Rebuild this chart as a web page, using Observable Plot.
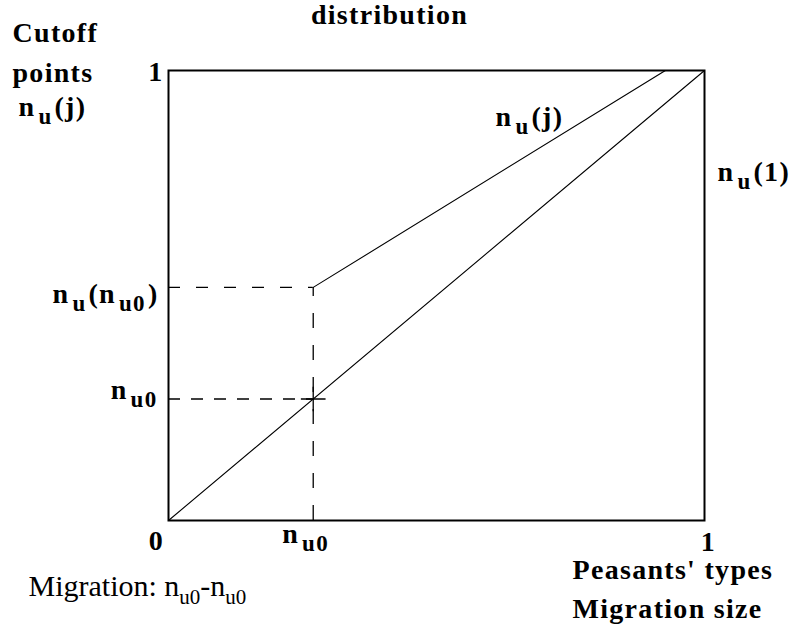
<!DOCTYPE html>
<html>
<head>
<meta charset="utf-8">
<script src="https://cdn.jsdelivr.net/npm/d3@7"></script>
<script src="https://cdn.jsdelivr.net/npm/@observablehq/plot@0.6"></script>
<style>
  html, body { margin: 0; padding: 0; background: #fff; }
  #chart svg { display: block; }
  #chart g[font-weight="bold"] text { letter-spacing: 1.3px; }
</style>
</head>
<body>
<div id="chart"></div>
<script>
// ---- data ----
const nu0 = 0.27;                 // n_u0 on the horizontal axis (and on the diagonal)
const nuOfNu0 = 0.518;            // n_u(n_u0): cutoff at n_u0
const cutoffEndX = 0.927;         // where n_u(j) reaches 1
const diagonalX = [0, 1];
const diagonalY = [0, 1];
const cutoffX = [nu0, cutoffEndX];
const cutoffY = [nuOfNu0, 1];
const xTickValues = [0, 1];
const xTickLabels = ["0", "1"];
const yTopLabel = "1";
const subLabelX = "n_{u0}";
const subLabelYLow = "n_{u0}";
const subLabelYHigh = "n_{u}(n_{u0})";
const titleText = "distribution";
const yTitleLines = ["Cutoff", "points", "n_{u}(j)"];
const lineLabel = "n_{u}(j)";
const rightLabel = "n_{u}(1)";
const xTitleLines = ["Peasants' types", "Migration size"];
const noteText = "Migration: n_{u0}-n_{u0}";

const diagonal = diagonalX.map((x, i) => ({x, y: diagonalY[i]}));
const cutoff = cutoffX.map((x, i) => ({x, y: cutoffY[i]}));

const FONT = "'Liberation Serif', 'Times New Roman', serif";
const B = {fontFamily: FONT, fontWeight: "bold", fontSize: 28, fill: "black", lineAnchor: "bottom"};

const plot = Plot.plot({
  width: 799,
  height: 630,
  marginLeft: 168,
  marginRight: 95,
  marginTop: 70,
  marginBottom: 110,
  x: {domain: [0, 1], axis: null},
  y: {domain: [0, 1], axis: null},
  marks: [
    // dashed guides
    Plot.ruleY([nuOfNu0], {x1: 0, x2: nu0, stroke: "black", strokeWidth: 1.3, strokeDasharray: "12,16"}),
    Plot.ruleY([nu0], {x1: 0, x2: nu0, stroke: "black", strokeWidth: 1.3, strokeDasharray: "12,11"}),
    Plot.ruleX([nu0], {y1: 0, y2: nuOfNu0, stroke: "black", strokeWidth: 1.3, strokeDasharray: "15,17"}),
    // lines
    Plot.line(diagonal, {x: "x", y: "y", stroke: "black", strokeWidth: 1.1}),
    Plot.line(cutoff, {x: "x", y: "y", stroke: "black", strokeWidth: 1.1}),
    Plot.dot([{x: nu0, y: nu0}], {x: "x", y: "y", symbol: "plus", r: 8, stroke: "black", strokeWidth: 1.3}),
    Plot.frame({stroke: "black", strokeWidth: 2}),
    // axis labels
    Plot.text(xTickValues, {x: d => d, y: 0, text: (d, i) => xTickLabels[i], dx: -12, dy: 29, ...B, textAnchor: "middle", filter: d => d === 0}),
    Plot.text(xTickValues, {x: d => d, y: 0, text: (d, i) => xTickLabels[i], dx: 4, dy: 30, ...B, textAnchor: "middle", filter: d => d === 1}),
    Plot.text([subLabelX], {x: nu0, y: 0, text: d => d, dx: -31, dy: 22, ...B, textAnchor: "start"}),
    Plot.text([yTopLabel], {x: 0, y: 1, text: d => d, dx: -5, dy: 10, ...B, textAnchor: "end"}),
    Plot.text([subLabelYHigh], {x: 0, y: nuOfNu0, text: d => d, dx: -10, dy: 16, ...B, textAnchor: "end"}),
    Plot.text([subLabelYLow], {x: 0, y: nu0, text: d => d, dx: -11, dy: 0, ...B, textAnchor: "end"}),
    // titles
    Plot.text([titleText], {frameAnchor: "top", text: d => d, dx: -47, dy: -47, ...B, textAnchor: "middle"}),
    Plot.text([yTitleLines[0]], {frameAnchor: "top-left", text: d => d, dx: -156, dy: -29, ...B, textAnchor: "start"}),
    Plot.text([yTitleLines[1]], {frameAnchor: "top-left", text: d => d, dx: -156, dy: 11, ...B, textAnchor: "start"}),
    Plot.text([yTitleLines[2]], {frameAnchor: "top-left", text: d => d, dx: -150, dy: 45, ...B, textAnchor: "start"}),
    Plot.text([lineLabel], {frameAnchor: "top-left", text: d => d, dx: 327, dy: 55, ...B, textAnchor: "start"}),
    Plot.text([rightLabel], {frameAnchor: "top-right", text: d => d, dx: 13, dy: 110, ...B, textAnchor: "start"}),
    Plot.text([xTitleLines[0]], {frameAnchor: "bottom-right", text: d => d, dx: -132, dy: 58, ...B, textAnchor: "start"}),
    Plot.text([xTitleLines[1]], {frameAnchor: "bottom-right", text: d => d, dx: -132, dy: 97, ...B, textAnchor: "start"}),
    Plot.text([noteText], {frameAnchor: "bottom-left", text: d => d, dx: -140, dy: 75, fontFamily: FONT, fontWeight: "normal", fontSize: 30, fill: "black", lineAnchor: "bottom", textAnchor: "start"})
  ]
});

// turn "_{...}" markup into real subscript tspans
const SUB_SHIFT = 8;
plot.querySelectorAll("text").forEach(node => {
  if (node.children.length) return;
  const s = node.textContent;
  if (!s.includes("_{")) return;
  const bold = node.closest("g") && node.closest("g").getAttribute("font-weight") === "bold";
  const parts = s.split(/(_\{[^}]*\})/).filter(Boolean);
  node.textContent = "";
  const sel = d3.select(node);
  let shifted = false;
  for (const p of parts) {
    if (p.startsWith("_{")) {
      sel.append("tspan").attr("dx", bold ? 3 : 0).attr("dy", SUB_SHIFT).attr("font-size", bold ? 23 : 21).text(p.slice(2, -1));
      shifted = true;
    } else {
      const t = sel.append("tspan").text(p);
      if (shifted) { t.attr("dy", -SUB_SHIFT).attr("dx", bold ? 2 : 0); shifted = false; }
    }
  }
});

document.getElementById("chart").appendChild(plot);
</script>
</body>
</html>
